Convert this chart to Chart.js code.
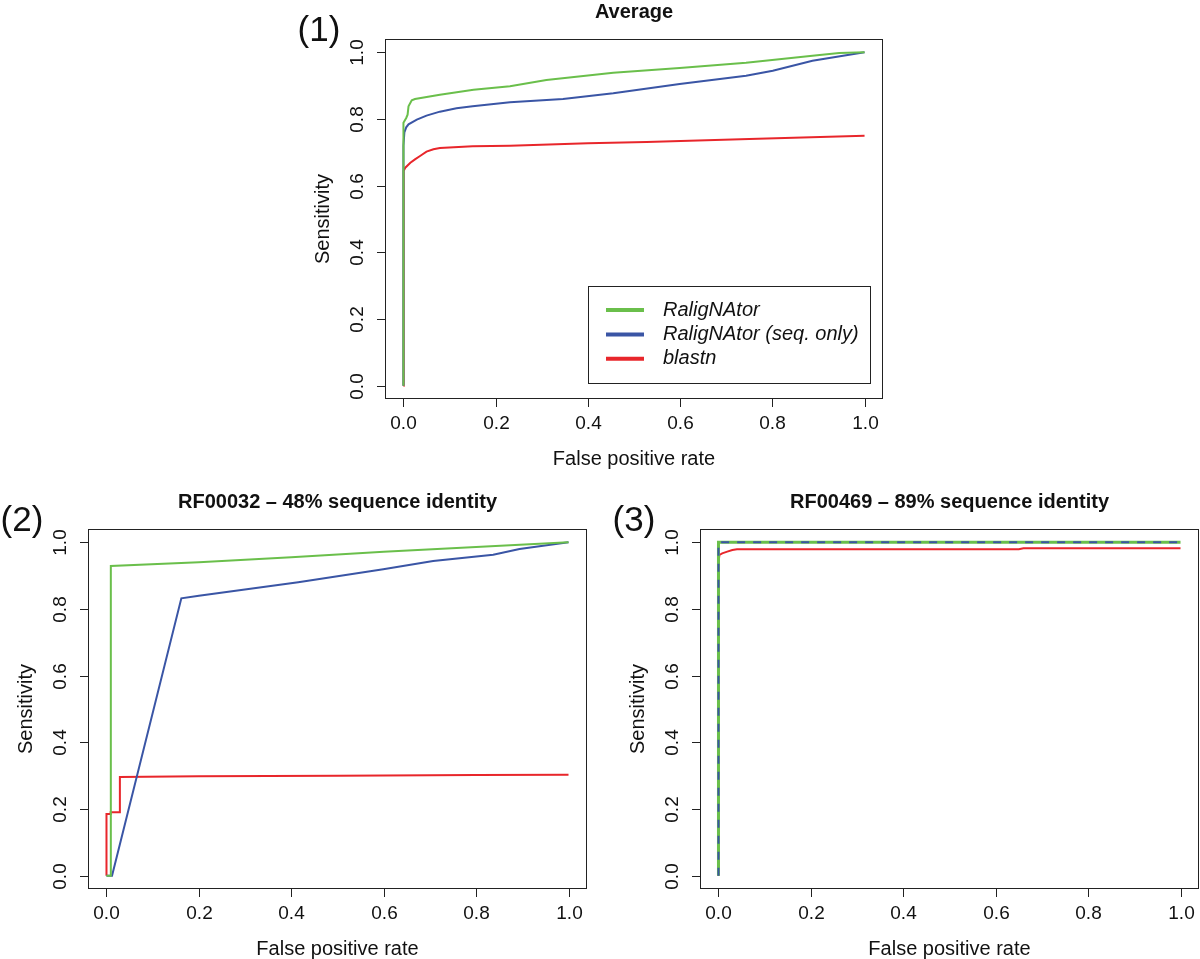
<!DOCTYPE html>
<html>
<head>
<meta charset="utf-8">
<script src="https://cdn.jsdelivr.net/npm/chart.js@4"></script>
<style>
  body { margin: 0; background: #fff; }
  #wrap { position: relative; width: 1200px; height: 959px; overflow: hidden; background: #fff; }
  canvas { position: absolute; }
</style>
</head>
<body>
<div id="wrap">
  <canvas id="avgChart" width="640" height="480" style="left:270px;top:0"></canvas>
  <canvas id="rf32Chart" width="600" height="479" style="left:0;top:480px"></canvas>
  <canvas id="rf469Chart" width="600" height="479" style="left:600px;top:480px"></canvas>
</div>
<script>
// ===== Data =====
const tickValues = [0, 0.2, 0.4, 0.6, 0.8, 1.0];
const tickLabels = ['0.0', '0.2', '0.4', '0.6', '0.8', '1.0'];
const seriesNames = ['RaligNAtor', 'RaligNAtor (seq. only)', 'blastn'];

// (1) Average
const avgRalignX = [0, 0, 0.006, 0.009, 0.011, 0.018, 0.025, 0.079, 0.152, 0.231, 0.31, 0.455, 0.599, 0.743, 0.887, 0.945, 1.0];
const avgRalignY = [0, 0.789, 0.803, 0.813, 0.838, 0.856, 0.86, 0.873, 0.888, 0.898, 0.917, 0.939, 0.953, 0.969, 0.99, 0.998, 1.0];
const avgSeqX = [0, 0, 0.002, 0.006, 0.011, 0.029, 0.05, 0.079, 0.115, 0.15, 0.231, 0.346, 0.455, 0.599, 0.743, 0.801, 0.887, 1.0];
const avgSeqY = [0, 0.72, 0.76, 0.775, 0.784, 0.798, 0.81, 0.822, 0.832, 0.838, 0.85, 0.86, 0.877, 0.905, 0.93, 0.945, 0.975, 1.0];
const avgBlastX = [0, 0, 0.001, 0.004, 0.015, 0.025, 0.036, 0.05, 0.065, 0.079, 0.15, 0.231, 0.4, 0.527, 0.75, 1.0];
const avgBlastY = [0, 0.63, 0.645, 0.654, 0.669, 0.679, 0.689, 0.702, 0.709, 0.713, 0.718, 0.72, 0.727, 0.731, 0.74, 0.75];

// (2) RF00032
const rf32RalignX = [0, 0.0094, 0.0094, 0.2, 0.4, 0.6, 0.8, 1.0];
const rf32RalignY = [0, 0, 0.929, 0.94, 0.955, 0.972, 0.986, 1.0];
const rf32SeqX = [0, 0.012, 0.162, 0.2, 0.415, 0.599, 0.707, 0.837, 0.894, 1.0];
const rf32SeqY = [0, 0, 0.832, 0.84, 0.88, 0.919, 0.944, 0.963, 0.98, 1.0];
const rf32BlastX = [0, 0, 0.008, 0.009, 0.029, 0.029, 0.2, 0.5, 0.8, 1.0];
const rf32BlastY = [0, 0.185, 0.185, 0.19, 0.19, 0.296, 0.298, 0.3, 0.302, 0.303];

// (3) RF00469
const rf469RalignX = [0, 0, 1.0];
const rf469RalignY = [0, 1.0, 1.0];
const rf469SeqX = [0, 0, 1.0];
const rf469SeqY = [0, 1.0, 1.0];
const rf469BlastX = [0, 0, 0.002, 0.008, 0.019, 0.03, 0.04, 0.65, 0.66, 1.0];
const rf469BlastY = [0, 0.94, 0.962, 0.967, 0.972, 0.977, 0.979, 0.979, 0.982, 0.982];

// ===== Styling =====
const GREEN = '#6abf4b';
const BLUE = '#3a55a5';
const RED = '#e8262b';
const FONT = "'Liberation Sans', Arial, Helvetica, sans-serif";

const toPoints = (xs, ys) => xs.map((v, i) => ({ x: v, y: ys[i] }));

// R-style frame: box, ticks, labels, titles, panel tag, legend
const rFrame = {
  id: 'rFrame',
  afterDatasetsDraw(chart, args, opts) {
    const { ctx, chartArea: a } = chart;
    const xs = chart.scales.x, ys = chart.scales.y;
    ctx.save();
    ctx.strokeStyle = '#222';
    ctx.fillStyle = '#111';
    ctx.lineWidth = 1;
    ctx.strokeRect(a.left + 0.5, a.top + 0.5, a.right - a.left - 1, a.bottom - a.top - 1);

    // x axis
    ctx.font = `19px ${FONT}`;
    ctx.textAlign = 'center';
    ctx.textBaseline = 'middle';
    tickValues.forEach((v, i) => {
      const px = Math.round(xs.getPixelForValue(v)) + 0.5;
      ctx.beginPath();
      ctx.moveTo(px, a.bottom);
      ctx.lineTo(px, a.bottom + 8);
      ctx.stroke();
      ctx.fillText(tickLabels[i], px, a.bottom + 25);
    });
    // y axis
    tickValues.forEach((v, i) => {
      const py = Math.round(ys.getPixelForValue(v)) + 0.5;
      ctx.beginPath();
      ctx.moveTo(a.left - 8, py);
      ctx.lineTo(a.left, py);
      ctx.stroke();
      ctx.save();
      ctx.translate(a.left - 27, py);
      ctx.rotate(-Math.PI / 2);
      ctx.fillText(tickLabels[i], 0, 0);
      ctx.restore();
    });

    // axis titles
    const cx = (a.left + a.right) / 2, cy = (a.top + a.bottom) / 2;
    ctx.font = `20px ${FONT}`;
    ctx.fillText('False positive rate', cx, a.bottom + 60);
    ctx.save();
    ctx.translate(a.left - 62, cy);
    ctx.rotate(-Math.PI / 2);
    ctx.fillText('Sensitivity', 0, 0);
    ctx.restore();

    // main title
    ctx.font = `bold 20px ${FONT}`;
    ctx.fillText(opts.title, cx, a.top - 27);

    // panel tag
    ctx.font = `35px ${FONT}`;
    ctx.fillText(opts.tag, a.left - 66, a.top - 8);

    // legend
    if (opts.legend) {
      const w = 282, h = 97;
      const lx = a.right - 13 - w, ly = a.bottom - 16 - h;
      ctx.strokeRect(Math.round(lx) + 0.5, Math.round(ly) + 0.5, w, h);
      ctx.font = `italic 20px ${FONT}`;
      ctx.textAlign = 'left';
      chart.data.datasets.forEach((ds, i) => {
        const ry = ly + 24 + i * 24.4;
        ctx.strokeStyle = ds.borderColor;
        ctx.lineWidth = 4;
        ctx.beginPath();
        ctx.moveTo(lx + 18, ry);
        ctx.lineTo(lx + 56, ry);
        ctx.stroke();
        ctx.fillText(ds.label, lx + 75, ry);
      });
    }
    ctx.restore();
  }
};

const makeChart = (id, title, tag, padding, sets, legend) => {
  const ctx = document.getElementById(id).getContext('2d');
  return new Chart(ctx, {
    type: 'line',
    data: {
      datasets: sets.map(s => ({
        label: s.label,
        data: toPoints(s.x, s.y),
        borderColor: s.color,
        borderWidth: s.width || 2,
        borderDash: s.dash || [],
        order: s.order,
        pointRadius: 0,
        tension: 0,
        fill: false
      }))
    },
    options: {
      responsive: false,
      animation: false,
      devicePixelRatio: 1,
      layout: { padding },
      plugins: {
        legend: { display: false },
        tooltip: { enabled: false },
        rFrame: { title, tag, legend }
      },
      scales: {
        x: { type: 'linear', min: -0.04, max: 1.04, display: false },
        y: { type: 'linear', min: -0.04, max: 1.04, display: false }
      }
    },
    plugins: [rFrame]
  });
};

makeChart('avgChart', 'Average', '(1)', { left: 115, top: 39, right: 27, bottom: 81 }, [
  { label: seriesNames[0], x: avgRalignX, y: avgRalignY, color: GREEN, order: 0 },
  { label: seriesNames[1], x: avgSeqX, y: avgSeqY, color: BLUE, order: 1 },
  { label: seriesNames[2], x: avgBlastX, y: avgBlastY, color: RED, order: 2 }
], true);

makeChart('rf32Chart', 'RF00032 \u2013 48% sequence identity', '(2)', { left: 88, top: 49, right: 13, bottom: 70 }, [
  { label: seriesNames[0], x: rf32RalignX, y: rf32RalignY, color: GREEN, order: 0 },
  { label: seriesNames[1], x: rf32SeqX, y: rf32SeqY, color: BLUE, order: 1 },
  { label: seriesNames[2], x: rf32BlastX, y: rf32BlastY, color: RED, order: 2 }
], false);

makeChart('rf469Chart', 'RF00469 \u2013 89% sequence identity', '(3)', { left: 100, top: 49, right: 1, bottom: 70 }, [
  { label: seriesNames[0], x: rf469RalignX, y: rf469RalignY, color: GREEN, width: 3, order: 1 },
  { label: seriesNames[1], x: rf469SeqX, y: rf469SeqY, color: BLUE, dash: [8, 8], order: 0 },
  { label: seriesNames[2], x: rf469BlastX, y: rf469BlastY, color: RED, order: 2 }
], false);
</script>
</body>
</html>
